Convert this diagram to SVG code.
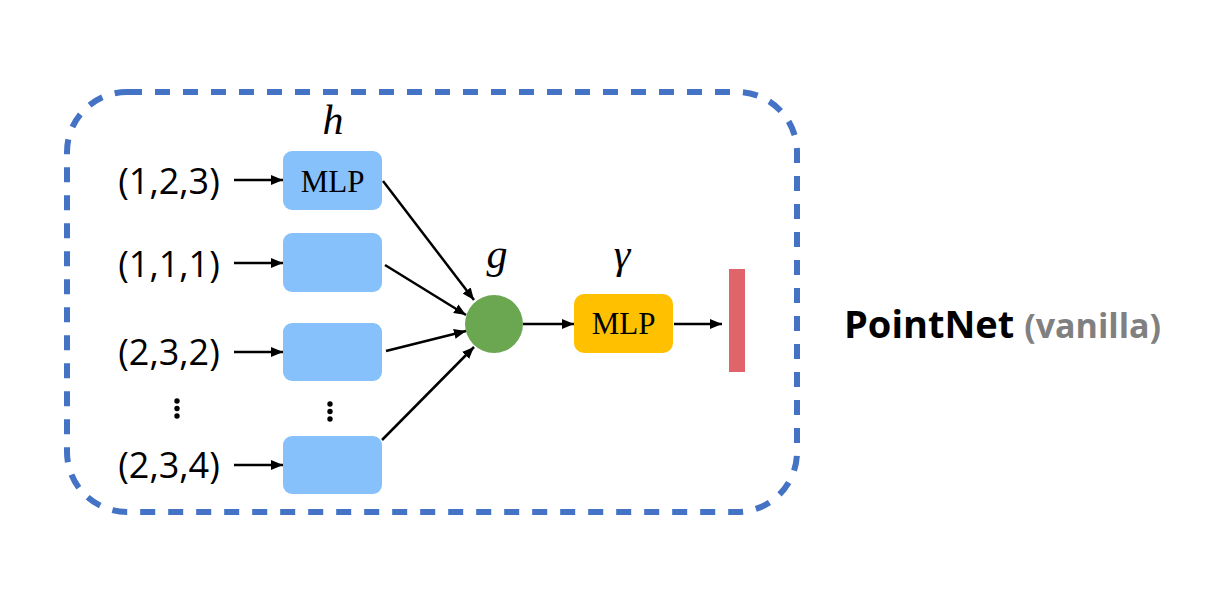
<svg xmlns="http://www.w3.org/2000/svg" width="1214" height="605" viewBox="0 0 1214 605">
  <style>
    .coord { font-family: "Open Sans", "Liberation Sans", sans-serif; font-size: 36px; fill: #000; text-anchor: middle; }
    .mlp { font-family: "Liberation Serif", serif; font-size: 31px; fill: #000; text-anchor: middle; }
    .math { font-family: "Liberation Serif", serif; font-style: italic; font-size: 42px; fill: #000; text-anchor: middle; }
    .hbox { fill: #86C1FC; }
    .conn { stroke: #000; stroke-width: 2.5; fill: none; marker-end: url(#arrow); }
    .dot { fill: #000; }
  </style>
  <defs>
    <marker id="arrow" markerUnits="userSpaceOnUse" markerWidth="12" markerHeight="10" refX="12" refY="5" orient="auto">
      <path d="M0,0 L12,5 L0,10 z" fill="#000"/>
    </marker>
  </defs>
  <rect width="1214" height="605" fill="#FFFFFF"/>

  <g id="frame">
    <rect x="67" y="92" width="730" height="420" rx="60" ry="60" fill="none" stroke="#4472C4" stroke-width="6" stroke-dasharray="15 13"/>
  </g>

  <g id="inputs">
    <text class="coord" x="169" y="194">(1,2,3)</text>
    <text class="coord" x="169" y="277">(1,1,1)</text>
    <text class="coord" x="169" y="365">(2,3,2)</text>
    <text class="coord" x="169" y="478">(2,3,4)</text>
    <circle class="dot" cx="177" cy="401" r="2.7"/>
    <circle class="dot" cx="177" cy="408.5" r="2.7"/>
    <circle class="dot" cx="177" cy="416" r="2.7"/>
  </g>

  <g id="h-label">
    <text class="math" x="333" y="134">h</text>
  </g>

  <g id="mlp-h1">
    <rect class="hbox" x="283" y="151" width="99" height="59" rx="9"/>
    <text class="mlp" x="332.5" y="192">MLP</text>
  </g>
  <g id="mlp-h2">
    <rect class="hbox" x="283" y="233" width="99" height="59" rx="9"/>
  </g>
  <g id="mlp-h3">
    <rect class="hbox" x="283" y="323" width="99" height="58" rx="9"/>
  </g>
  <g id="mlp-dots">
    <circle class="dot" cx="330" cy="404" r="2.7"/>
    <circle class="dot" cx="330" cy="411.5" r="2.7"/>
    <circle class="dot" cx="330" cy="419" r="2.7"/>
  </g>
  <g id="mlp-h4">
    <rect class="hbox" x="283" y="436" width="99" height="58" rx="9"/>
  </g>

  <g id="g-node">
    <text class="math" x="497" y="268">g</text>
    <circle cx="494" cy="324" r="29" fill="#6BA650"/>
  </g>

  <g id="gamma-node">
    <text class="math" x="622" y="268">γ</text>
    <rect x="574" y="294" width="99" height="59" rx="10" fill="#FFC000"/>
    <text class="mlp" x="623.5" y="334">MLP</text>
  </g>

  <g id="output">
    <rect x="729" y="269" width="16" height="103" fill="#E0656A"/>
  </g>

  <g id="title">
    <text x="844" y="338" font-family="'Open Sans', 'Liberation Sans', sans-serif" font-weight="bold" font-size="38" fill="#000">PointNet <tspan fill="#808080" font-size="34">(vanilla)</tspan></text>
  </g>

  <g id="connectors">
    <line class="conn" x1="234" y1="180" x2="283" y2="180"/>
    <line class="conn" x1="234" y1="263" x2="283" y2="263"/>
    <line class="conn" x1="234" y1="352" x2="283" y2="352"/>
    <line class="conn" x1="234" y1="465" x2="283" y2="465"/>
    <line class="conn" x1="383" y1="181" x2="474" y2="300"/>
    <line class="conn" x1="385" y1="265" x2="466" y2="315"/>
    <line class="conn" x1="386" y1="351" x2="466" y2="331"/>
    <line class="conn" x1="382" y1="440" x2="474" y2="347"/>
    <line class="conn" x1="523" y1="324" x2="574" y2="324"/>
    <line class="conn" x1="674" y1="324" x2="722" y2="324"/>
  </g>
</svg>
